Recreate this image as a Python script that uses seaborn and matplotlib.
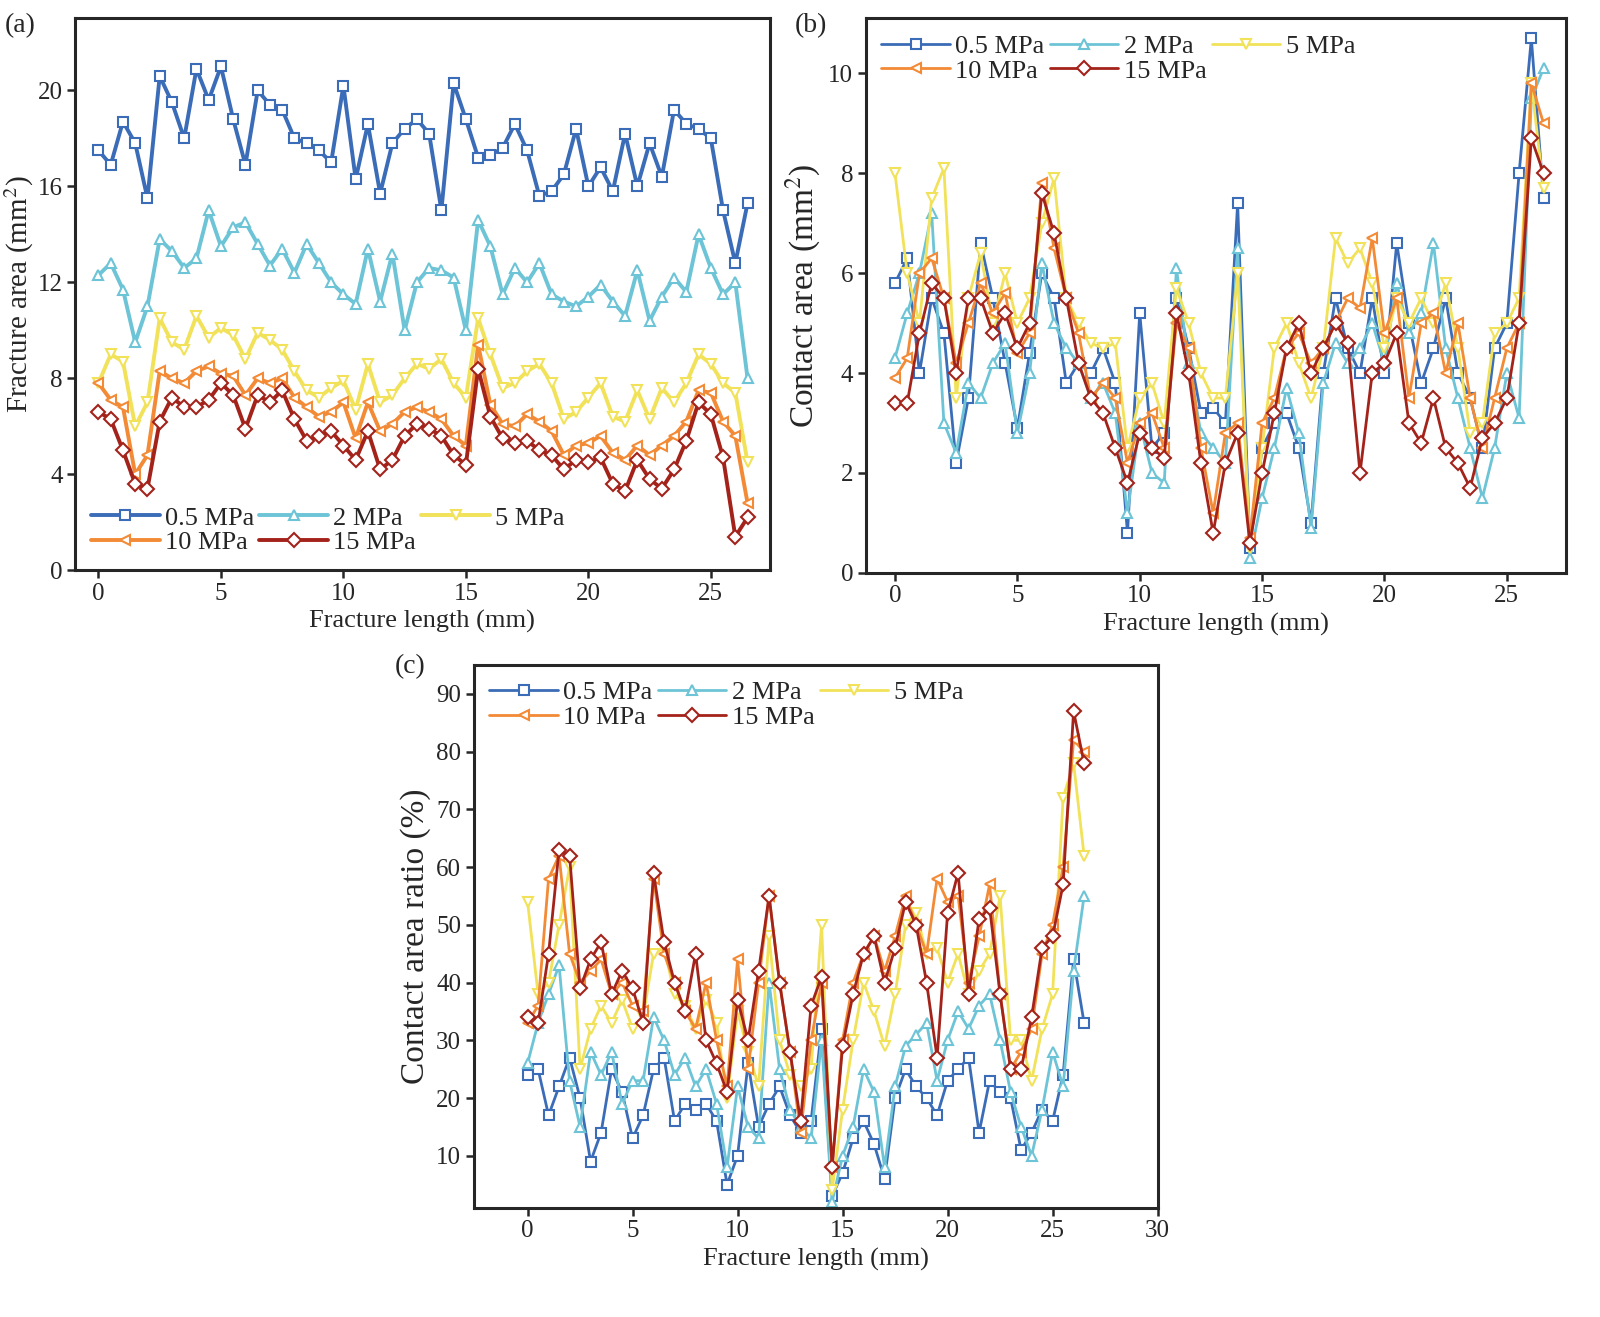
import numpy as np
import pandas as pd
import seaborn as sns
import matplotlib.pyplot as plt

sns.set_theme(style='ticks')
plt.rcParams['font.family'] = ['Liberation Serif', 'DejaVu Serif']
plt.rcParams['mathtext.fontset'] = 'stix'

# fracture length, mm (sample every 0.5 mm)
length_mm = np.arange(54) * 0.5
pressures = ['0.5 MPa', '2 MPa', '5 MPa', '10 MPa', '15 MPa']

# (a) fracture area, mm^2
frac_05 = [17.5, 16.9, 18.7, 17.8, 15.5, 20.6, 19.5, 18.0, 20.9, 19.6, 21.0, 18.8, 16.9, 20.0, 19.4, 19.2, 18.0, 17.8,
           17.5, 17.0, 20.2, 16.3, 18.6, 15.7, 17.8, 18.4, 18.8, 18.2, 15.0, 20.3, 18.8, 17.2, 17.3, 17.6, 18.6, 17.5,
           15.6, 15.8, 16.5, 18.4, 16.0, 16.8, 15.8, 18.2, 16.0, 17.8, 16.4, 19.2, 18.6, 18.4, 18.0, 15.0, 12.8, 15.3]
frac_2 = [12.3, 12.8, 11.7, 9.5, 11.0, 13.8, 13.3, 12.6, 13.0, 15.0, 13.5, 14.3, 14.5, 13.6, 12.7, 13.4, 12.4, 13.6,
          12.8, 12.0, 11.5, 11.1, 13.4, 11.2, 13.2, 10.0, 12.0, 12.6, 12.5, 12.2, 10.0, 14.6, 13.5, 11.5, 12.6, 12.0,
          12.8, 11.5, 11.2, 11.0, 11.4, 11.9, 11.2, 10.6, 12.5, 10.4, 11.4, 12.2, 11.6, 14.0, 12.6, 11.5, 12.0, 8.0]
frac_5 = [7.8, 9.0, 8.7, 6.0, 7.0, 10.5, 9.5, 9.2, 10.6, 9.7, 10.1, 9.8, 8.8, 9.9, 9.6, 9.2, 8.3, 7.5,
          7.2, 7.6, 7.9, 6.7, 8.6, 7.0, 7.3, 8.0, 8.6, 8.4, 8.8, 7.8, 7.2, 10.5, 9.0, 7.6, 7.8, 8.3,
          8.6, 7.8, 6.3, 6.6, 7.2, 7.8, 6.4, 6.2, 7.5, 6.3, 7.6, 7.0, 7.8, 9.0, 8.6, 7.8, 7.4, 4.5]
frac_10 = [7.8, 7.1, 6.8, 4.0, 4.8, 8.3, 8.0, 7.8, 8.3, 8.5, 8.2, 8.1, 7.3, 8.0, 7.8, 8.0, 7.2, 6.8,
           6.4, 6.6, 7.0, 5.5, 7.0, 5.8, 6.1, 6.6, 6.8, 6.6, 6.3, 5.6, 5.2, 9.4, 6.9, 6.1, 6.0, 6.5,
           6.2, 5.8, 4.8, 5.2, 5.3, 5.6, 4.9, 4.6, 5.2, 4.8, 5.2, 5.6, 6.2, 7.5, 7.4, 6.2, 5.6, 2.8]
frac_15 = [6.6, 6.3, 5.0, 3.6, 3.4, 6.2, 7.2, 6.8, 6.8, 7.1, 7.8, 7.3, 5.9, 7.3, 7.0, 7.5, 6.3, 5.4,
           5.6, 5.8, 5.2, 4.6, 5.8, 4.2, 4.6, 5.6, 6.1, 5.9, 5.6, 4.8, 4.4, 8.4, 6.4, 5.5, 5.3, 5.4,
           5.0, 4.8, 4.2, 4.6, 4.5, 4.7, 3.6, 3.3, 4.6, 3.8, 3.4, 4.2, 5.4, 7.0, 6.5, 4.7, 1.4, 2.2]

# (b) contact area, mm^2
cont_05 = [5.8, 6.3, 4.0, 5.5, 4.8, 2.2, 3.5, 6.6, 5.5, 4.2, 2.9, 4.4, 6.0, 5.5, 3.8, 4.2, 4.0, 4.5,
           3.8, 0.8, 5.2, 2.5, 2.8, 5.5, 4.5, 3.2, 3.3, 3.0, 7.4, 0.5, 2.5, 3.0, 3.2, 2.5, 1.0, 4.0,
           5.5, 4.5, 4.0, 5.5, 4.0, 6.6, 5.0, 3.8, 4.5, 5.5, 4.0, 3.5, 2.5, 4.5, 5.0, 8.0, 10.7, 7.5]
cont_2 = [4.3, 5.2, 6.0, 7.2, 3.0, 2.4, 3.8, 3.5, 4.2, 4.6, 2.8, 4.0, 6.2, 5.0, 4.5, 4.2, 3.5, 3.8,
          3.2, 1.2, 3.0, 2.0, 1.8, 6.1, 4.2, 2.8, 2.5, 2.2, 6.5, 0.3, 1.5, 2.5, 3.7, 2.8, 0.9, 3.8,
          4.6, 4.2, 4.5, 5.0, 4.2, 5.8, 4.8, 5.2, 6.6, 4.5, 3.5, 2.5, 1.5, 2.5, 4.0, 3.1, 9.5, 10.1]
cont_5 = [8.0, 6.0, 5.0, 7.5, 8.1, 3.5, 5.5, 6.4, 5.0, 6.0, 5.0, 5.5, 7.0, 7.9, 5.5, 5.0, 4.6, 4.5,
          4.6, 2.5, 3.5, 3.8, 3.0, 5.7, 5.0, 4.0, 3.5, 3.5, 6.0, 0.5, 2.5, 4.5, 5.0, 4.2, 3.5, 4.5,
          6.7, 6.2, 6.5, 5.8, 4.5, 5.5, 5.0, 5.5, 5.0, 5.8, 4.5, 2.8, 3.0, 4.8, 5.0, 5.5, 9.8, 7.7]
cont_10 = [3.9, 4.3, 6.0, 6.3, 5.5, 4.2, 5.0, 5.8, 5.2, 5.6, 4.4, 4.8, 7.8, 6.5, 5.5, 4.8, 3.5, 3.8,
           3.5, 2.2, 3.0, 3.2, 2.5, 5.0, 4.5, 2.5, 1.2, 2.8, 3.0, 0.7, 3.0, 3.5, 4.5, 4.8, 4.2, 4.5,
           5.0, 5.5, 5.3, 6.7, 4.8, 5.5, 3.5, 5.0, 5.2, 4.0, 5.0, 3.5, 2.5, 3.5, 4.5, 5.0, 9.8, 9.0]
cont_15 = [3.4, 3.4, 4.8, 5.8, 5.5, 4.0, 5.5, 5.5, 4.8, 5.2, 4.5, 5.0, 7.6, 6.8, 5.5, 4.2, 3.5, 3.2,
           2.5, 1.8, 2.8, 2.5, 2.3, 5.2, 4.0, 2.2, 0.8, 2.2, 2.8, 0.6, 2.0, 3.2, 4.5, 5.0, 4.0, 4.5,
           5.0, 4.6, 2.0, 4.0, 4.2, 4.8, 3.0, 2.6, 3.5, 2.5, 2.2, 1.7, 2.7, 3.0, 3.5, 5.0, 8.7, 8.0]

# (c) contact area ratio, %
ratio_05 = [24, 25, 17, 22, 27, 20, 9, 14, 25, 21, 13, 17, 25, 27, 16, 19, 18, 19,
            16, 5, 10, 26, 15, 19, 22, 17, 14, 16, 32, 3, 7, 13, 16, 12, 6, 20,
            25, 22, 20, 17, 23, 25, 27, 14, 23, 21, 20, 11, 14, 18, 16, 24, 44, 33]
ratio_2 = [26, 33, 38, 43, 23, 15, 28, 24, 28, 19, 23, 23, 34, 30, 24, 27, 22, 25,
           19, 8, 22, 15, 13, 40, 25, 18, 15, 13, 30, 2, 10, 15, 25, 21, 8, 22,
           29, 31, 33, 23, 30, 35, 32, 36, 38, 30, 21, 15, 10, 18, 28, 22, 42, 55]
ratio_5 = [54, 38, 40, 50, 60, 25, 32, 36, 33, 37, 32, 34, 45, 46, 38, 36, 32, 37,
           33, 20, 35, 28, 22, 48, 30, 24, 22, 25, 50, 4, 18, 30, 40, 35, 29, 38,
           50, 52, 45, 46, 40, 45, 38, 42, 45, 55, 30, 30, 23, 32, 38, 72, 78, 62]
ratio_10 = [33, 36, 58, 62, 45, 40, 42, 44, 38, 40, 36, 35, 58, 45, 40, 35, 32, 40,
            30, 22, 44, 25, 40, 55, 40, 28, 14, 30, 40, 8, 30, 40, 45, 48, 42, 48,
            55, 50, 45, 58, 54, 55, 40, 48, 57, 38, 25, 28, 32, 45, 50, 60, 82, 80]
ratio_15 = [34, 33, 45, 63, 62, 39, 44, 47, 38, 42, 39, 33, 59, 47, 40, 35, 45, 30,
            26, 21, 37, 30, 42, 55, 40, 28, 16, 36, 41, 8, 29, 38, 45, 48, 40, 46,
            54, 50, 40, 27, 52, 59, 38, 51, 53, 38, 25, 25, 34, 46, 48, 57, 87, 78]

colors = ['#3b6cb7', '#6cc4d6', '#f1e25a', '#f28a36', '#a3231b']
markers = ['s', '^', 'v', '<', 'D']


def draw(ax, series, lw, ms, loc):
    df = pd.concat([pd.DataFrame({'x': length_mm, 'y': s, 'p': p}) for s, p in zip(series, pressures)])
    for p, c, m in zip(pressures, colors, markers):
        sub = df[df['p'] == p]
        sns.lineplot(data=sub, x='x', y='y', ax=ax, color=c, lw=lw, marker=m, markersize=ms,
                     markerfacecolor='white', markeredgecolor=c, markeredgewidth=1.5, label=p)
    for s in ax.spines.values():
        s.set_linewidth(2.2)
    ax.tick_params(labelsize=18, width=1.8, length=6, direction='out', pad=3)
    ax.set_xlabel('Fracture length (mm)', fontsize=19)
    # row-wise legend: 0.5, 2, 5 / 10, 15
    h, l = ax.get_legend_handles_labels()
    order = [0, 3, 1, 4, 2]
    ax.legend([h[i] for i in order], [l[i] for i in order], loc=loc, ncol=3, frameon=False,
              fontsize=19, handlelength=2.6, columnspacing=0.2, handletextpad=0.2,
              labelspacing=0.05, borderaxespad=0.2)


fig = plt.figure(figsize=(16, 13.17), dpi=100)
ax_a = fig.add_axes([0.047, 0.567, 0.434, 0.419])
ax_b = fig.add_axes([0.541, 0.565, 0.4375, 0.421])
ax_c = fig.add_axes([0.296, 0.083, 0.4275, 0.412])

draw(ax_a, [frac_05, frac_2, frac_5, frac_10, frac_15], 2.8, 7, 'lower left')
ax_a.set_xlim(-0.95, 27.4)
ax_a.set_ylim(0, 23)
ax_a.set_yticks([0, 4, 8, 12, 16, 20])
ax_a.set_ylabel('Fracture area (mm$^2$)', fontsize=21, labelpad=1)

draw(ax_b, [cont_05, cont_2, cont_5, cont_10, cont_15], 2.0, 7, 'upper left')
ax_b.set_xlim(-1.2, 27.4)
ax_b.set_ylim(0, 11.1)
ax_b.set_yticks([0, 2, 4, 6, 8, 10])
ax_b.set_ylabel('Contact area (mm$^2$)', fontsize=24)

draw(ax_c, [ratio_05, ratio_2, ratio_5, ratio_10, ratio_15], 2.0, 7, 'upper left')
ax_c.set_xlim(-2.57, 30)
ax_c.set_ylim(1, 95)
ax_c.set_yticks(range(10, 91, 10))
ax_c.set_ylabel('Contact area ratio (%)', fontsize=24)

fig.text(0.003, 0.99, '(a)', fontsize=20, va='top')
fig.text(0.497, 0.99, '(b)', fontsize=20, va='top')
fig.text(0.247, 0.503, '(c)', fontsize=20, va='top')

plt.savefig('out.png', dpi=100)
